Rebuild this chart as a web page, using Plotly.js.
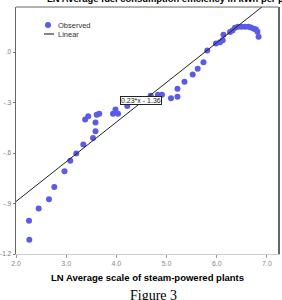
<!DOCTYPE html>
<html><head><meta charset="utf-8">
<script src="https://cdn.plot.ly/plotly-3.0.1.min.js"></script>
<style>html,body{margin:0;padding:0;background:#fff;overflow:hidden}#c{width:282px;height:300px}</style>
</head><body><div id="c"></div>
<script>
const scaleLN = [2.265,2.259,2.452,2.657,2.763,2.966,3.082,3.201,3.341,3.534,3.584,3.584,3.378,3.440,3.608,3.659,3.932,4.032,3.982,4.217,4.683,4.829,4.908,5.088,5.217,5.217,5.357,5.520,5.620,5.735,5.811,5.984,6.064,6.118,6.133,6.263,6.313,6.363,6.422,6.492,6.562,6.631,6.681,6.741,6.781,6.811,6.833];
const fuelLN = [-1.116,-1.002,-0.929,-0.875,-0.802,-0.708,-0.646,-0.603,-0.549,-0.510,-0.471,-0.418,-0.401,-0.381,-0.372,-0.367,-0.366,-0.367,-0.341,-0.321,-0.260,-0.254,-0.254,-0.274,-0.265,-0.218,-0.177,-0.133,-0.099,-0.061,0.009,0.051,0.058,0.070,0.103,0.119,0.128,0.145,0.151,0.151,0.151,0.151,0.146,0.139,0.134,0.121,0.091];
const fitSlope = 0.236;
const fitIntercept = -1.36;
const fitLabel = "0.23*x - 1.36";
const xRange = [2.0, 7.22];
const yRange = [-1.2, 0.268];
const xTickVals = [2,3,4,5,6,7];
const xTickText = ["2.0","3.0","4.0","5.0","6.0","7.0"];
const yTickVals = [0,-0.3,-0.6,-0.9,-1.2];
const yTickText = [".0","-.3","-.6","-.9","-1.2"];
const yTitle = "LN Average fuel consumption efficiency in kWh per power unit";
const xTitle = "LN Average scale of steam-powered plants";
const caption = "Figure 3";
const legendNames = ["Observed","Linear"];

const fitX = xRange.slice();
const fitY = fitX.map(v => fitIntercept + fitSlope*v);
const dotColor = '#5b5be8';

const traces = [
  {x: scaleLN, y: fuelLN, type:'scatter', mode:'markers', marker:{color:dotColor, size:6}, showlegend:false, hoverinfo:'skip'},
  {x: fitX, y: fitY, type:'scatter', mode:'lines', line:{color:'#222', width:1}, showlegend:false, hoverinfo:'skip'}
];
const layout = {
  width:282, height:300,
  margin:{l:16, r:4, t:7, b:46},
  paper_bgcolor:'#fff', plot_bgcolor:'#fff',
  font:{family:'Arial, Liberation Sans, sans-serif'},
  xaxis:{range:xRange, tickvals:xTickVals, ticktext:xTickText, showgrid:false, zeroline:false,
         ticks:'outside', ticklen:3, tickcolor:'#999', tickfont:{size:7, color:'#888'},
         showline:true, linecolor:'#ccc', linewidth:1},
  yaxis:{range:yRange, tickvals:yTickVals, ticktext:yTickText, showgrid:false, zeroline:false,
         ticks:'outside', ticklen:2, tickcolor:'#777', tickfont:{size:6.5, color:'#777'},
         showline:true, linecolor:'#666', linewidth:1.5, mirror:true},
  shapes:[
    {type:'line', xref:'paper', yref:'paper', x0:0, x1:1, y0:1, y1:1, line:{color:'#666', width:1}},
    {type:'circle', xref:'paper', yref:'paper', x0:(45-16)/262, x1:(51-16)/262, y0:(254-28)/247, y1:(254-22)/247, fillcolor:dotColor, line:{width:0}},
    {type:'line', xref:'paper', yref:'paper', x0:(44-16)/262, x1:(54-16)/262, y0:(254-34)/247, y1:(254-34)/247, line:{color:'#333', width:1.2}}
  ],
  annotations:[
    {text:'<b>'+yTitle+'</b>', xref:'paper', yref:'paper', x:(45-16)/262, y:1+(7-6)/247, xanchor:'left', yanchor:'bottom', showarrow:false, font:{size:9.4, color:'#000'}},
    {text:'<b>'+xTitle+'</b>', xref:'paper', yref:'paper', x:(147.5-16)/262, y:-(277-254)/247, xanchor:'center', yanchor:'middle', showarrow:false, font:{size:9.5, color:'#000'}},
    {text:caption, xref:'paper', yref:'paper', x:(153-16)/262, y:-(286-254)/247, xanchor:'center', yanchor:'top', showarrow:false, font:{size:14, color:'#000', family:'Liberation Serif, Times New Roman, serif'}},
    {text:legendNames[0], xref:'paper', yref:'paper', x:(56-16)/262, y:(254-25)/247, xanchor:'left', yanchor:'middle', showarrow:false, font:{size:7.5, color:'#333'}},
    {text:legendNames[1], xref:'paper', yref:'paper', x:(56-16)/262, y:(254-34)/247, xanchor:'left', yanchor:'middle', showarrow:false, font:{size:7.5, color:'#333'}},
    {text:fitLabel, xref:'x', yref:'y', x:4.5, y:-0.286, xanchor:'center', yanchor:'middle', showarrow:false, font:{size:7, color:'#222'}, bgcolor:'#fff', bordercolor:'#222', borderwidth:1, borderpad:0}
  ]
};
Plotly.newPlot('c', traces, layout, {staticPlot:true, displayModeBar:false});
</script></body></html>
